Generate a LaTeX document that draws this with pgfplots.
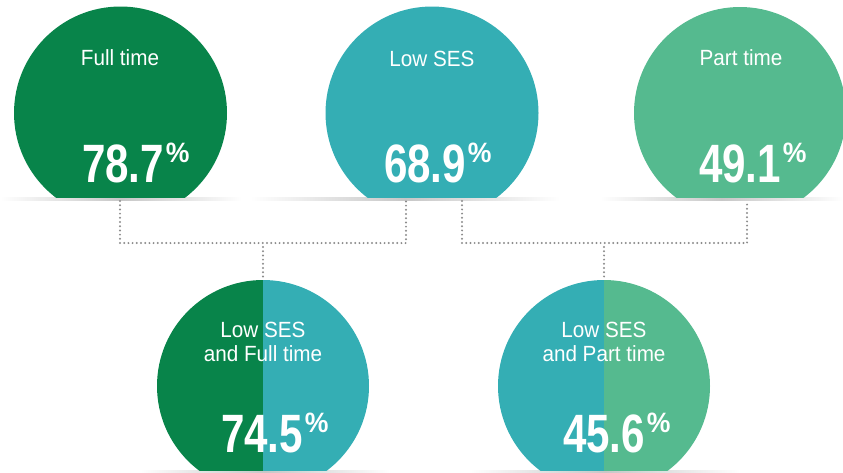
\documentclass[border=0pt]{standalone}
\usepackage{pgfplots}
\pgfplotsset{compat=1.18}
\usepackage{pgfplotstable}
\usepackage{fontspec}
\setmainfont{Liberation Sans}
\newfontfamily\labelfont{Liberation Sans}[FakeStretch=0.94]
\newfontfamily\numfont{Liberation Sans Bold}[FakeStretch=0.78]
\newfontfamily\pctfont{Liberation Sans Bold}[FakeStretch=0.95]
\definecolor{ftgreen}{RGB}{8,132,74}
\definecolor{sesteal}{RGB}{52,174,180}
\definecolor{ptgreen}{RGB}{85,186,143}
\definecolor{dotgray}{RGB}{140,140,140}

\pgfplotstableread{
x   y   v
123 182 78.7
425 182 68.9
740 182 49.1
262 452 74.5
604 452 45.6
}\rates

\begin{document}
\begin{tikzpicture}
\begin{axis}[
  width=843pt, height=472pt, scale only axis,
  xmin=0, xmax=843, ymin=0, ymax=472, y dir=reverse,
  hide axis,
]
% shadows
\shade[left color=white, right color=white, middle color=black!22] (axis cs:0,197) rectangle (axis cs:242,200);
\shade[left color=white, right color=white, middle color=black!22] (axis cs:250,197) rectangle (axis cs:560,200);
\shade[left color=white, right color=white, middle color=black!22] (axis cs:600,197) rectangle (axis cs:843,200);
\shade[left color=white, right color=white, middle color=black!22] (axis cs:140,470) rectangle (axis cs:390,473);
\shade[left color=white, right color=white, middle color=black!22] (axis cs:470,470) rectangle (axis cs:740,473);
% top circles
\begin{scope}
\clip (axis cs:0,0) rectangle (axis cs:843,197);
\fill[ftgreen] (axis cs:120.5,113) circle[radius=106.5pt];
\fill[sesteal] (axis cs:432,113) circle[radius=106.5pt];
\fill[ptgreen] (axis cs:740,113) circle[radius=106pt];
\end{scope}
% bottom split circles
\begin{scope}
\clip (axis cs:0,0) rectangle (axis cs:263,470);
\fill[ftgreen] (axis cs:263,386) circle[radius=106pt];
\end{scope}
\begin{scope}
\clip (axis cs:263,0) rectangle (axis cs:843,470);
\fill[sesteal] (axis cs:263,386) circle[radius=106pt];
\end{scope}
\begin{scope}
\clip (axis cs:0,0) rectangle (axis cs:604,470);
\fill[sesteal] (axis cs:604,386) circle[radius=106pt];
\end{scope}
\begin{scope}
\clip (axis cs:604,0) rectangle (axis cs:843,470);
\fill[ptgreen] (axis cs:604,386) circle[radius=106pt];
\end{scope}
% connectors
\tikzset{dotline/.style={dotgray, line width=2.2pt, line cap=round, dash pattern=on 0pt off 4.2pt}}
\draw[dotline] (axis cs:120,201) -- (axis cs:120,243) -- (axis cs:406,243) -- (axis cs:406,201);
\draw[dotline] (axis cs:263,247) -- (axis cs:263,279);
\draw[dotline] (axis cs:462,201) -- (axis cs:462,243) -- (axis cs:747,243) -- (axis cs:747,201);
\draw[dotline] (axis cs:604,247) -- (axis cs:604,279);
% labels
\tikzset{lab/.style={text=white, anchor=base, inner sep=0pt, font=\labelfont\fontsize{22}{22}\selectfont}}
\node[lab] at (axis cs:120,65) {Full time};
\node[lab] at (axis cs:432,66) {Low SES};
\node[lab] at (axis cs:741,65) {Part time};
\node[lab] at (axis cs:263,337) {Low SES};
\node[lab] at (axis cs:263,361) {and Full time};
\node[lab] at (axis cs:604,337) {Low SES};
\node[lab] at (axis cs:604,361) {and Part time};
% values
\addplot[only marks, mark=none, point meta=explicit,
  nodes near coords={\numfont\fontsize{54}{54}\selectfont\pgfmathprintnumber[fixed,precision=1,fixed zerofill,assume math mode=true]{\pgfplotspointmeta}\rlap{\hspace{2pt}\raisebox{19.5pt}{\pctfont\fontsize{28}{28}\selectfont\%}}},
  every node near coord/.append style={text=white, anchor=base, inner sep=0pt}]
  table[x=x, y=y, meta=v] {\rates};
\end{axis}
\pgfresetboundingbox
\path (current axis.south west) rectangle (current axis.north east);
\end{tikzpicture}
\end{document}
